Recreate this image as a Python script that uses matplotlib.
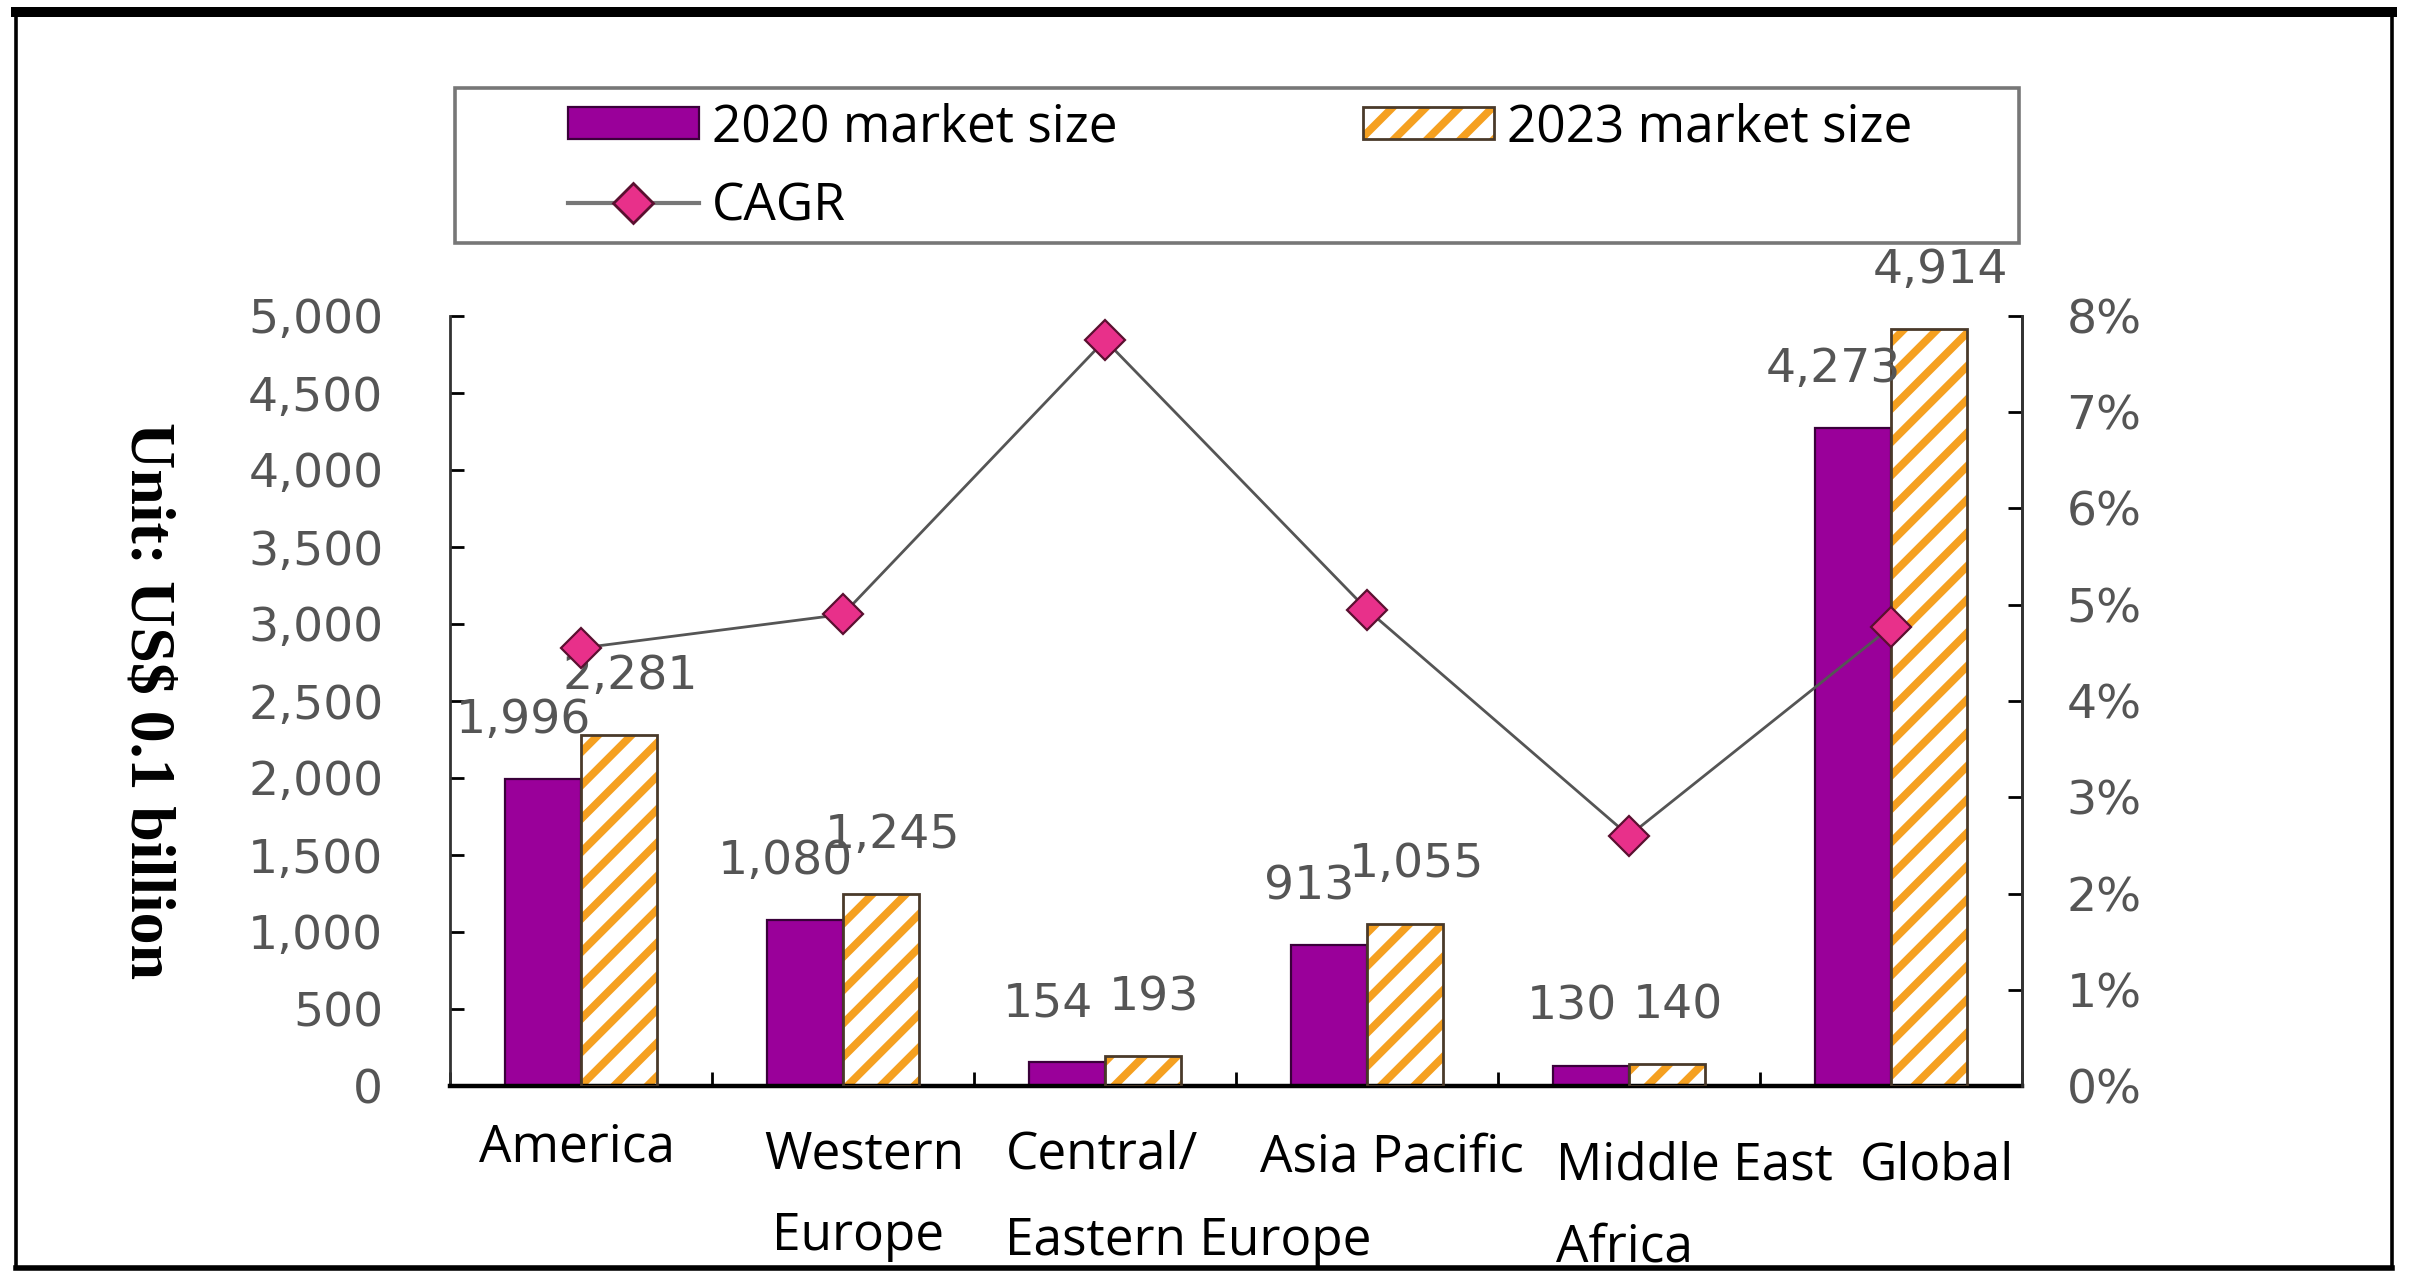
import numpy as np
import matplotlib
matplotlib.use("Agg")
import matplotlib.pyplot as plt
from matplotlib.patches import Rectangle
from matplotlib.lines import Line2D
from matplotlib.legend_handler import HandlerTuple
from matplotlib.ticker import MultipleLocator, FuncFormatter

# data
regions = ["America", "Western\nEurope", "Central/\nEastern Europe",
           "Asia Pacific", "Middle East\nAfrica", "Global"]
size_2020 = [1996, 1080, 154, 913, 130, 4273]
size_2023 = [2281, 1245, 193, 1055, 140, 4914]
cagr = [4.55, 4.9, 7.75, 4.95, 2.6, 4.77]

W, H = 2416, 1273
plt.rcParams['hatch.linewidth'] = 2.8

fig = plt.figure(figsize=(W / 200, H / 200), dpi=200)

def fx(px):
    return px / W

def fy(py):
    return 1 - py / H

ax = fig.add_axes([fx(450), fy(1086), fx(2022) - fx(450), fy(316) - fy(1086)])
ax2 = ax.twinx()

x = np.arange(len(regions))
w = 0.29
purple = '#9A009A'
orange = '#F5A020'
grey_txt = '#555555'

# bars
b1 = ax.bar(x - w / 2, size_2020, w, color=purple, edgecolor='#3A003A', linewidth=0.8, zorder=2)
b2 = ax.bar(x + w / 2, size_2023, w, color='white', edgecolor=orange, hatch='//', linewidth=0, zorder=2)
b2o = ax.bar(x + w / 2, size_2023, w, fill=False, edgecolor='#4A3A2A', linewidth=1.0, zorder=3)

# value labels
for xi, v in zip(x, size_2020):
    ax.annotate(f"{v:,}", xy=(xi - w / 2, v), xytext=(-7, 13), textcoords='offset points',
                ha='center', va='bottom', fontsize=17, color=grey_txt)
for xi, v in zip(x, size_2023):
    ax.annotate(f"{v:,}", xy=(xi + w / 2, v), xytext=(4, 13), textcoords='offset points',
                ha='center', va='bottom', fontsize=17, color=grey_txt)

ax.set_xlim(-0.5, len(regions) - 0.5)
ax.set_ylim(0, 5000)
ax.yaxis.set_major_locator(MultipleLocator(500))
ax.yaxis.set_major_formatter(FuncFormatter(lambda v, _: f"{v:,.0f}"))
ax.tick_params(axis='y', direction='in', length=5, width=1, labelsize=17,
               labelcolor=grey_txt, pad=24)

# category labels, one text per line, left edges offset from the group centre
ax.set_xticks(x)
ax.set_xticklabels([])
ax.set_xticks(np.arange(-0.5, len(regions), 1), minor=True)
ax.tick_params(axis='x', which='major', length=0)
ax.tick_params(axis='x', which='minor', direction='in', length=5, width=1)
label_dx = [[-0.39], [-0.30, -0.27], [-0.38, -0.38], [-0.41], [-0.28, -0.28], [-0.12]]
label_y = [[-0.08], [-0.09, -0.196], [-0.09, -0.202], [-0.094], [-0.104, -0.21], [-0.104]]
for xi, lab, dxs, ys in zip(x, regions, label_dx, label_y):
    for line, dx, ly in zip(lab.split("\n"), dxs, ys):
        ax.text(xi + dx, ly, line, transform=ax.get_xaxis_transform(), ha='left', va='center',
                fontsize=18.5, family='Open Sans')

# CAGR line
ax2.plot(x, cagr, color='#555555', linewidth=1.0, marker='D', markersize=10,
         markerfacecolor='#E8308A', markeredgecolor='#5A1030', markeredgewidth=0.8, zorder=5)
ax2.set_ylim(0, 8)
ax2.yaxis.set_major_locator(MultipleLocator(1))
ax2.yaxis.set_major_formatter(FuncFormatter(lambda v, _: f"{v:.0f}%"))
ax2.tick_params(axis='y', direction='in', length=5, width=1, labelsize=17,
                labelcolor=grey_txt, pad=16)

for a in (ax, ax2):
    a.spines['top'].set_visible(False)
    a.spines['left'].set_color('#333333')
    a.spines['right'].set_color('#333333')
    a.spines['left'].set_linewidth(1.0)
    a.spines['right'].set_linewidth(1.0)
    a.spines['bottom'].set_linewidth(1.6)
ax2.spines['left'].set_visible(False)
ax2.spines['bottom'].set_visible(False)

fig.text(fx(146), fy(701), "Unit: US$ 0.1 billion", rotation=270, ha='center', va='center',
         fontsize=23, fontweight='bold', family=['Liberation Serif', 'DejaVu Serif'])

# legend
line_handle = Line2D([], [], color='#777777', linewidth=1.5, marker='D', markersize=10,
                     markerfacecolor='#E8308A', markeredgecolor='#5A1030')
fig.add_artist(Rectangle((fx(455), fy(243)), fx(2019) - fx(455), fy(88) - fy(243),
                         transform=fig.transFigure, fill=False, edgecolor='#777777', linewidth=1.3))
fig.legend([b1[0], line_handle, (b2[0], b2o[0])],
           ["2020 market size", "CAGR", "2023 market size"],
           handler_map={tuple: HandlerTuple(ndivide=1)},
           ncol=2, loc='lower left', mode='expand', frameon=False,
           bbox_to_anchor=(fx(560), fy(240), fx(1920) - fx(560), fy(92) - fy(240)),
           borderaxespad=0, borderpad=0.15, prop={'family': 'Open Sans', 'size': 18.5},
           handlelength=2.55, handleheight=0.6, handletextpad=0.25, labelspacing=0.55)

# outer frame
fig.add_artist(Line2D([fx(16), fx(2392)], [fy(12), fy(12)], transform=fig.transFigure,
                      color='black', linewidth=3.6))
fig.add_artist(Line2D([fx(16), fx(2392)], [fy(1268), fy(1268)], transform=fig.transFigure,
                      color='black', linewidth=2.0))
fig.add_artist(Line2D([fx(16), fx(16)], [fy(12), fy(1268)], transform=fig.transFigure,
                      color='black', linewidth=1.3))
fig.add_artist(Line2D([fx(2392), fx(2392)], [fy(12), fy(1268)], transform=fig.transFigure,
                      color='black', linewidth=1.3))

fig.savefig('out.png', dpi=200)
